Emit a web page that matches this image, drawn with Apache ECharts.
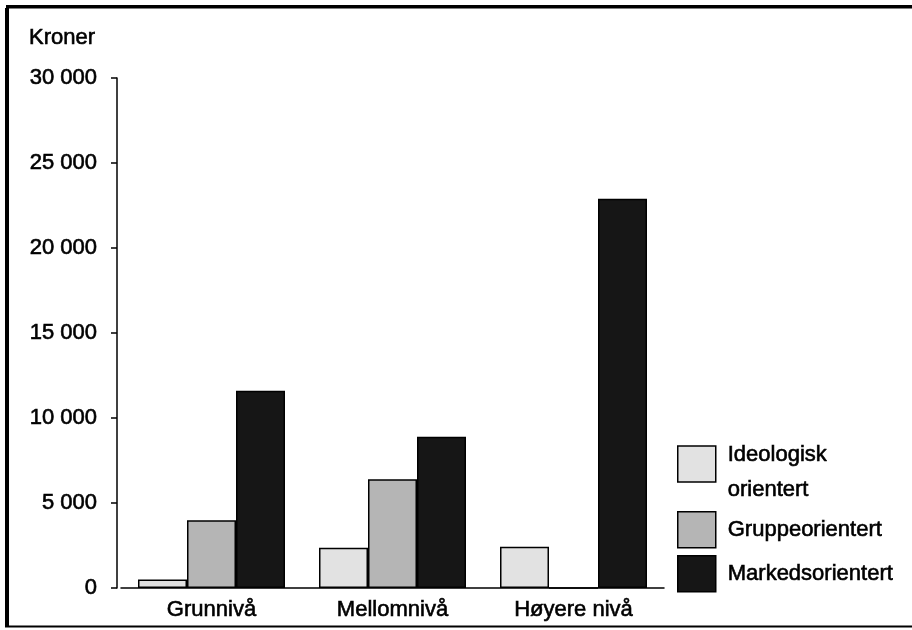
<!DOCTYPE html>
<html>
<head>
<meta charset="utf-8">
<script src="https://cdn.jsdelivr.net/npm/echarts@6/dist/echarts.min.js"></script>
<style>
html,body{margin:0;padding:0;background:#fff;}
#chart{width:912px;height:630px;}
</style>
</head>
<body>
<div id="chart"></div>
<script>
const categories = ['Grunnivå', 'Mellomnivå', 'Høyere nivå'];
const seriesNames = ['Ideologisk orientert', 'Gruppeorientert', 'Markedsorientert'];
const ideologisk = [500, 2370, 2420];
const gruppe = [3980, 6400, 0];
const marked = [11600, 8900, 22900];
const yTicks = [0, 5000, 10000, 15000, 20000, 25000, 30000];
const colors = ['#e2e2e2', '#b5b5b5', '#161616'];

const font = 'Liberation Sans, Arial, Helvetica, sans-serif';
const txt = {fontFamily: font, fontSize: 22, color: '#000', textBorderColor: '#000', textBorderWidth: 0.6};
const chart = echarts.init(document.getElementById('chart'));
const values = [ideologisk, gruppe, marked];
const legendTops = [421, 511, 555];

chart.setOption({
  animation: false,
  backgroundColor: '#fff',
  title: {
    text: 'Kroner', left: 24, top: 22,
    textStyle: Object.assign({}, txt, {fontWeight: 'normal'})
  },
  grid: {left: 121, right: 248, top: 78, bottom: 42, containLabel: false},
  legend: seriesNames.map((name, i) => ({
    orient: 'vertical', left: 677, top: legendTops[i], padding: 0,
    itemWidth: 38, itemHeight: 36, icon: 'rect',
    itemStyle: {borderColor: '#000', borderWidth: 1.5},
    formatter: n => n.indexOf(' ') > 0
      ? '{s|}\n' + n.split(' ').map(w => '{a|' + w + '}').join('\n')
      : n,
    textStyle: Object.assign({}, txt, {
      lineHeight: 35, padding: [0, 0, 0, 7],
      rich: {
        s: {fontSize: 1, lineHeight: 16, height: 16},
        a: Object.assign({}, txt, {lineHeight: 35})
      }
    }),
    data: [name]
  })),
  xAxis: {
    type: 'category', data: categories,
    axisLine: {lineStyle: {color: '#000', width: 1.5}},
    axisTick: {show: false},
    axisLabel: Object.assign({}, txt, {margin: 11})
  },
  yAxis: {
    type: 'value', min: yTicks[0], max: yTicks[yTicks.length - 1], interval: 5000, offset: 4,
    axisLine: {show: true, lineStyle: {color: '#000', width: 1.5}},
    axisTick: {show: true, length: 6, lineStyle: {color: '#000', width: 1.5}},
    splitLine: {show: false},
    axisLabel: Object.assign({}, txt, {
      margin: 20,
      formatter: v => String(v).replace(/\B(?=(\d{3})+(?!\d))/g, ' ')
    })
  },
  series: seriesNames.map((name, i) => ({
    name, type: 'bar', data: values[i], barWidth: 49, barGap: '0%',
    itemStyle: {color: colors[i], borderColor: '#000', borderWidth: 1.5}
  })),
  graphic: [
    {type: 'rect', shape: {x: 5, y: 8, width: 4, height: 619}, style: {fill: '#000'}},
    {type: 'rect', shape: {x: 6, y: 5, width: 906, height: 3.5}, style: {fill: '#000'}},
    {type: 'rect', shape: {x: 5, y: 625.5, width: 907, height: 2}, style: {fill: '#000'}}
  ]
});
</script>
</body>
</html>
